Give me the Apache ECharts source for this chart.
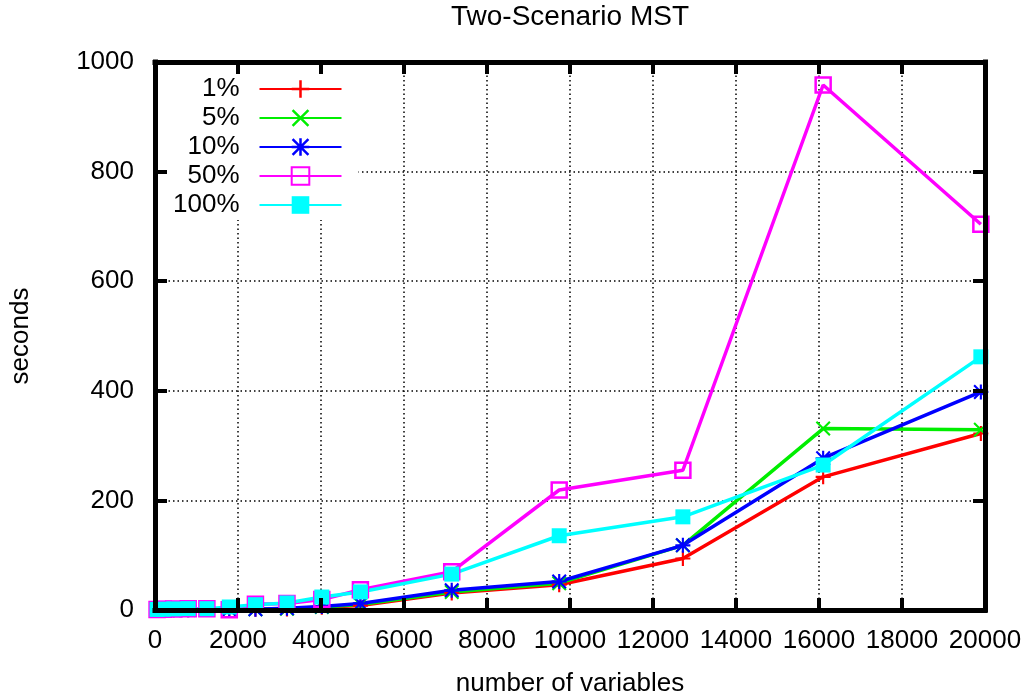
<!DOCTYPE html>
<html>
<head>
<meta charset="utf-8">
<title>Two-Scenario MST</title>
<script src="https://cdn.jsdelivr.net/npm/echarts@6/dist/echarts.min.js"></script>
<style>
  html, body { margin: 0; padding: 0; background: #fff; }
  #chart { width: 1030px; height: 697px; }
</style>
</head>
<body>
<div id="chart"></div>
<script>
// Problem sizes (x) shared by every series
const variables = [50, 200, 450, 800, 1250, 1790, 2420, 3180, 4020, 4950, 7150, 9740, 12720, 16100, 19900];

// Run time in seconds per scenario share
const secs1 = [0.2, 0.3, 0.4, 0.6, 0.8, 1, 1.2, 2, 5, 8, 31, 46, 94, 243, 322];
const secs5 = [0.2, 0.3, 0.4, 0.6, 0.8, 1, 1.3, 2.5, 5.5, 10, 33, 49, 118, 331, 329];
const secs10 = [0.2, 0.3, 0.4, 0.6, 0.9, 1.2, 1.5, 3, 6.5, 12, 36, 52, 118, 277, 398];
const secs50 = [1, 1.5, 2, 2.5, 2.5, 0.5, 10.5, 12, 19, 37, 70, 219, 255, 958, 704];
const secs100 = [1, 1.5, 2, 2.5, 2.4, 5.5, 9.7, 12.8, 23.7, 33, 65.5, 135.5, 170, 264.5, 462];

const seriesNames = ['1%', '5%', '10%', '50%', '100%'];
const xTicks = { min: 0, max: 20000, interval: 2000 };
const yTicks = { min: 0, max: 1000, interval: 200 };

const FONT = "'Liberation Sans', Arial, Helvetica, sans-serif";

// gnuplot-style point shapes
const PLUS = 'path://M6,0h2v6h6v2h-6v6h-2v-6h-6v-2h6z';
const CROSS = 'path://M0,1.4L1.4,0L7,5.6L12.6,0L14,1.4L8.4,7L14,12.6L12.6,14L7,8.4L1.4,14L0,12.6L5.6,7Z';
const STAR = 'path://M6,0h2v6h6v2h-6v6h-2v-6h-6v-2h6z M0,1.4L1.4,0L7,5.6L12.6,0L14,1.4L8.4,7L14,12.6L12.6,14L7,8.4L1.4,14L0,12.6L5.6,7Z';

function pairs(ys) { return variables.map((x, i) => [x, ys[i]]); }

function lineSeries(name, ys, color, symbol, itemStyle) {
  return {
    name: name,
    type: 'line',
    data: pairs(ys),
    symbol: symbol,
    symbolSize: 15,
    showSymbol: true,
    lineStyle: { color: color, width: 3.5 },
    itemStyle: itemStyle || { color: color },
    emphasis: { disabled: true }
  };
}

const plain = v => String(v);
const frameLine = { show: true, onZero: false, lineStyle: { color: '#000', width: 5, cap: 'square' } };
const frameTick = { show: true, inside: true, length: 12, lineStyle: { color: '#000', width: 4 } };
const gridDots = { show: true, lineStyle: { color: '#000', width: 1.5, type: [1.5, 3] } };
const tickFont = { fontSize: 26, color: '#000', fontFamily: FONT };

const chart = echarts.init(document.getElementById('chart'), null, { renderer: 'canvas' });

chart.setOption({
  animation: false,
  backgroundColor: '#fff',
  title: {
    text: 'Two-Scenario MST',
    left: 570,
    top: 3,
    padding: 0,
    textAlign: 'center',
    textStyle: { fontSize: 28, fontWeight: 'normal', color: '#000', fontFamily: FONT }
  },
  grid: { left: 155, right: 45, top: 62, bottom: 87, outerBoundsMode: 'none' },
  legend: {
    data: seriesNames,
    orient: 'vertical',
    align: 'right',
    left: 161,
    top: 65,
    itemWidth: 82,
    itemHeight: 22,
    itemGap: 3,
    backgroundColor: '#fff',
    padding: [11, 16, 2, 12],
    selectedMode: false,
    textStyle: { fontSize: 26, lineHeight: 22, color: '#000', fontFamily: FONT, padding: [0, 15, 0, 0] }
  },
  xAxis: [
    Object.assign({ type: 'value', position: 'bottom', z: 0,
      axisLine: { show: false }, axisTick: { show: false }, axisLabel: { show: false },
      splitLine: gridDots }, xTicks),
    Object.assign({ type: 'value', position: 'bottom', z: 5,
      axisLine: frameLine, axisTick: frameTick,
      axisLabel: Object.assign({ margin: 18, formatter: plain }, tickFont),
      splitLine: { show: false },
      name: 'number of variables', nameLocation: 'middle', nameGap: 61,
      nameTextStyle: tickFont }, xTicks),
    Object.assign({ type: 'value', position: 'top', z: 5,
      axisLine: frameLine, axisTick: frameTick, axisLabel: { show: false },
      splitLine: { show: false } }, xTicks)
  ],
  yAxis: [
    Object.assign({ type: 'value', position: 'left', z: 0,
      axisLine: { show: false }, axisTick: { show: false }, axisLabel: { show: false },
      splitLine: gridDots }, yTicks),
    Object.assign({ type: 'value', position: 'left', z: 5,
      axisLine: frameLine, axisTick: frameTick,
      axisLabel: Object.assign({ margin: 21, formatter: plain }, tickFont),
      splitLine: { show: false },
      name: 'seconds', nameLocation: 'middle', nameGap: 121, nameRotate: 90,
      nameTextStyle: tickFont }, yTicks),
    Object.assign({ type: 'value', position: 'right', z: 5,
      axisLine: frameLine, axisTick: frameTick, axisLabel: { show: false },
      splitLine: { show: false } }, yTicks)
  ],
  series: [
    lineSeries('1%', secs1, '#ff0000', PLUS),
    lineSeries('5%', secs5, '#00ee00', CROSS),
    lineSeries('10%', secs10, '#0000ff', STAR),
    lineSeries('50%', secs50, '#ff00ff', 'rect',
      { color: 'rgba(255,255,255,0)', borderColor: '#ff00ff', borderWidth: 2.5 }),
    lineSeries('100%', secs100, '#00ffff', 'rect')
  ]
});
</script>
</body>
</html>
